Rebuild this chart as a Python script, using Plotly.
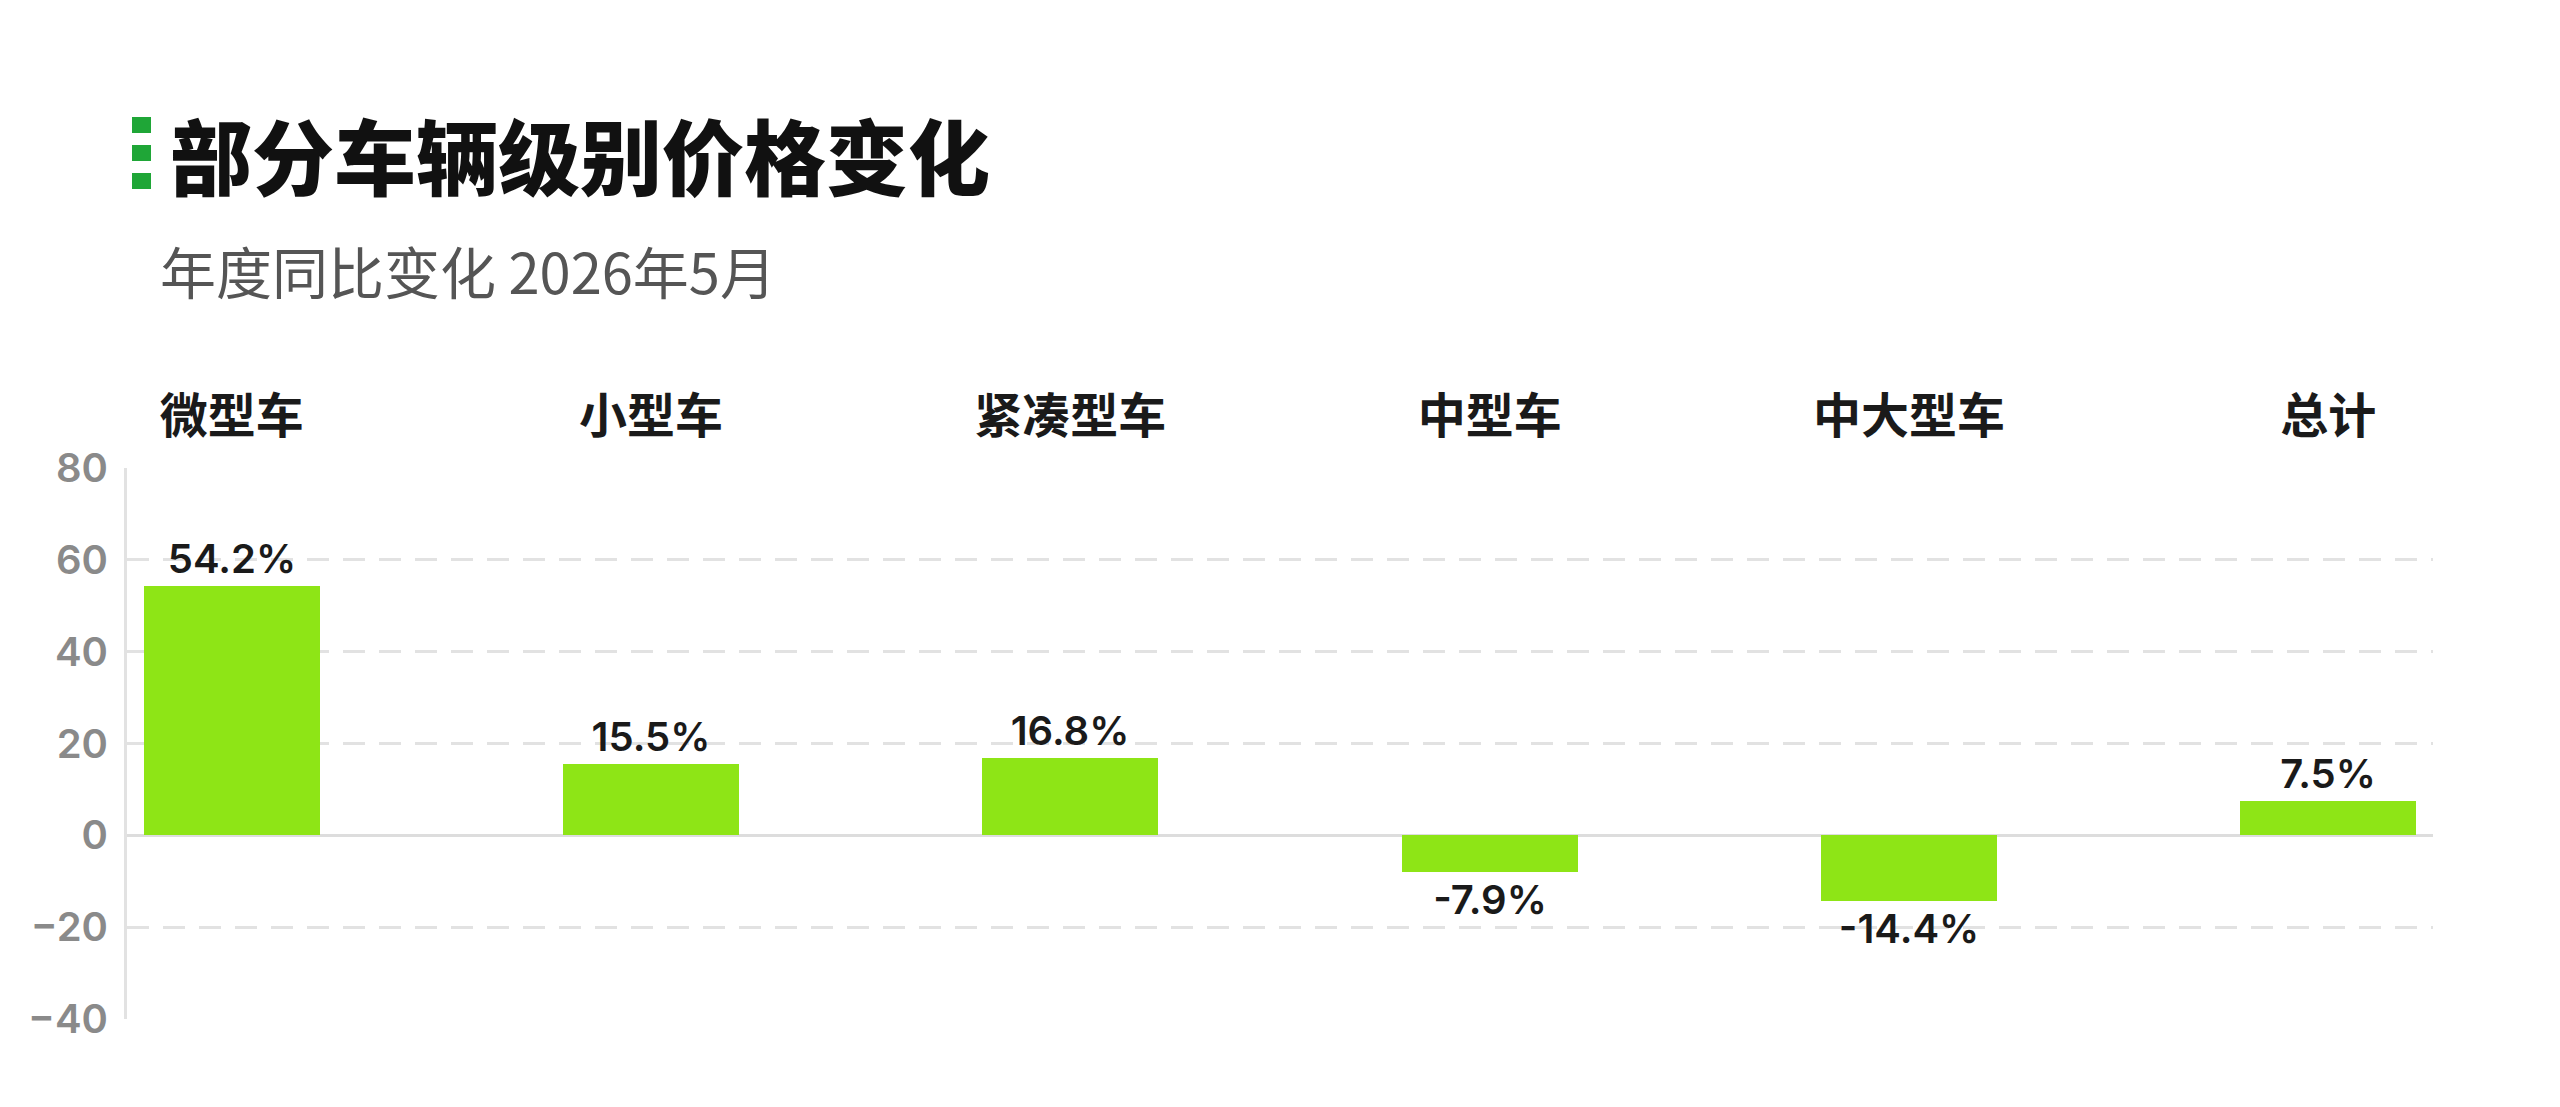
import plotly.graph_objects as go

categories = ["微型车", "小型车", "紧凑型车", "中型车", "中大型车", "总计"]
values = [54.2, 15.5, 16.8, -7.9, -14.4, 7.5]
labels = ["54.2%", "15.5%", "16.8%", "-7.9%", "-14.4%", "7.5%"]
yticks = [-40, -20, 0, 20, 40, 60, 80]

L, R, T, B = 119, 135, 460, 96
H = 1107 - T - B
W = 2560 - L - R
def py(pix):
    return (1107 - B - pix) / H
def px(pix):
    return (pix - L) / W

fig = go.Figure(go.Bar(
    x=list(range(len(categories))), y=values, width=0.42,
    marker_color="#8ee516", marker_line_width=0,
    text=labels, textposition="outside", cliponaxis=False,
    textfont=dict(family="Inter, Noto Sans", size=40, color="#1a1a1a", weight=600),
))
fig.update_layout(
    width=2560, height=1107, plot_bgcolor="white", paper_bgcolor="white",
    margin=dict(l=L, r=R, t=T, b=B), showlegend=False,
    font=dict(family="Noto Sans CJK SC"),
    xaxis=dict(range=[-0.25, 5.25], side="top", tickmode="array",
               tickvals=list(range(len(categories))), ticktext=categories,
               tickfont=dict(size=48, color="#1a1a1a", family="Noto Sans CJK SC", weight=700),
               ticks="", showgrid=False, zeroline=False, ticklabelstandoff=24),
    yaxis=dict(range=[-40, 80], tickvals=yticks, showgrid=True, gridcolor="#e2e2e2",
               griddash="22px,14px", gridwidth=3, zeroline=True, zerolinecolor="#dddddd",
               zerolinewidth=3, showline=True, linecolor="#e2e2e2", linewidth=3,
               tickfont=dict(size=40, color="#8a8a8a", family="Inter", weight=600),
               ticks="", ticklabelstandoff=8),
    bargap=0,
)
fig.add_annotation(text="部分车辆级别价格变化", xref="paper", yref="paper", x=px(160), y=py(146),
                   xanchor="left", yanchor="middle", showarrow=False,
                   font=dict(size=82, color="#111111", family="Noto Sans CJK SC", weight=900))
for cy in [117, 145, 173]:
    fig.add_shape(type="rect", xref="paper", yref="paper", x0=px(124), x1=px(143),
                  y0=py(cy + 8), y1=py(cy - 8), fillcolor="#1fa637", line_width=0)
fig.add_annotation(text="年度同比变化 2026年5月", xref="paper", yref="paper", x=px(150),
                   y=py(262), xanchor="left", yanchor="middle", showarrow=False,
                   font=dict(size=56, color="#555555", family="Noto Sans CJK SC"))
fig.write_html("out.html")
